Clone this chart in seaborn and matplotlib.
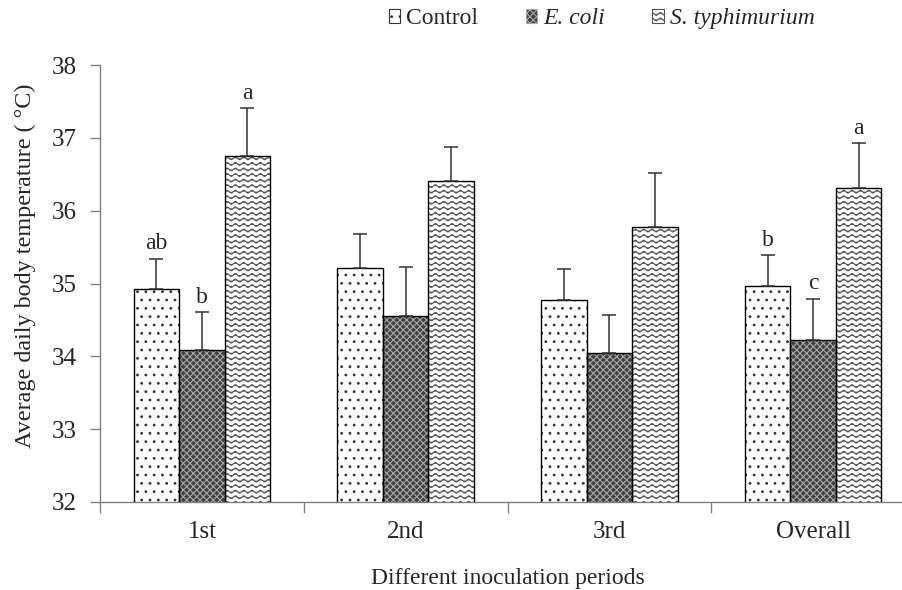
import warnings
warnings.filterwarnings("ignore")
import numpy as np
import pandas as pd
import matplotlib
matplotlib.use("Agg")
import matplotlib.pyplot as plt
import matplotlib.hatch as mhatch
from matplotlib.path import Path
from matplotlib.patches import Patch, Rectangle
import seaborn as sns

# ---------------- data ----------------
periods = ["1st", "2nd", "3rd", "Overall"]
treatments = ["Control", "E. coli", "S. typhimurium"]
control_mean = [34.92, 35.21, 34.77, 34.97]
ecoli_mean = [34.09, 34.55, 34.04, 34.22]
styph_mean = [36.75, 36.41, 35.78, 36.31]
control_err = [0.42, 0.47, 0.43, 0.42]
ecoli_err = [0.52, 0.67, 0.53, 0.57]
styph_err = [0.66, 0.46, 0.74, 0.62]
control_letters = ["ab", "", "", "b"]
ecoli_letters = ["b", "", "", "c"]
styph_letters = ["a", "", "", "a"]
y_ticks = [32, 33, 34, 35, 36, 37, 38]


# ------------- custom wavy hatch -------------
class WaveHatch(mhatch.HatchPatternBase):
    def __init__(self, hatch, density):
        self.num_rows = hatch.count('~') * density
        self.n_per = 12
        self.n_pts = self.n_per * 8 + 1
        self.num_vertices = self.num_rows * self.n_pts if self.num_rows else 0

    def set_vertices_and_codes(self, vertices, codes):
        xs = np.linspace(0.0, 1.0, self.n_pts)
        amp = 0.014
        k = 0
        for i in range(self.num_rows):
            y0 = (i + 0.5) / self.num_rows
            ys = y0 + amp * np.sin(2 * np.pi * self.n_per * xs)
            vertices[k:k + self.n_pts, 0] = xs
            vertices[k:k + self.n_pts, 1] = ys
            codes[k] = Path.MOVETO
            codes[k + 1:k + self.n_pts] = Path.LINETO
            k += self.n_pts


mhatch._hatch_types.append(WaveHatch)

# ------------- dataframe -------------
rows = []
for t, means in zip(treatments, [control_mean, ecoli_mean, styph_mean]):
    for p, m in zip(periods, means):
        rows.append({"period": p, "treatment": t, "temp": m})
df = pd.DataFrame(rows)

sns.set_style("white")
plt.rcParams["font.family"] = ["Liberation Serif", "DejaVu Serif"]
plt.rcParams["hatch.linewidth"] = 0.8

styles = {
    "Control": dict(face="white", hatch="..", hcolor="#333333"),
    "E. coli": dict(face="#404040", hatch="xxxxx", hcolor="#a8a8a8"),
    "S. typhimurium": dict(face="white", hatch="~~~", hcolor="#555555"),
}

fig = plt.figure(figsize=(9.02, 5.90), dpi=100)
ax = fig.add_axes([100 / 902, (590 - 502) / 590, 815 / 902, (502 - 65) / 590])

sns.barplot(data=df, x="period", y="temp", hue="treatment", order=periods,
            hue_order=treatments, width=0.67, errorbar=None, ax=ax,
            palette=["white"] * 3, legend=False, saturation=1)

ax.set_ylim(32, 38)
ax.set_xlim(-0.5, 3.5)

errs = [control_err, ecoli_err, styph_err]
means_all = [control_mean, ecoli_mean, styph_mean]
letters_all = [control_letters, ecoli_letters, styph_letters]

for cont, t, err, means, lets in zip(ax.containers, treatments, errs, means_all, letters_all):
    st = styles[t]
    xs = []
    for patch in cont.patches:
        patch.set_facecolor(st["face"])
        patch.set_hatch(st["hatch"])
        patch.set_edgecolor(st["hcolor"])
        patch.set_linewidth(0)
        ax.add_patch(Rectangle(patch.get_xy(), patch.get_width(), patch.get_height(),
                               fill=False, edgecolor="black", linewidth=1.0, zorder=3))
        xs.append(patch.get_x() + patch.get_width() / 2)
    ax.errorbar(xs, means, yerr=[np.zeros(len(err)), err], fmt="none",
                ecolor="#333333", elinewidth=1.1, capsize=5, capthick=1.1, zorder=4)
    for x, m, e, l in zip(xs, means, err, lets):
        if l:
            ax.text(x, m + e + 0.06, l, ha="center", va="bottom", fontsize=17)

# axes styling
for s in ["top", "right"]:
    ax.spines[s].set_visible(False)
for s in ["left", "bottom"]:
    ax.spines[s].set_color("#808080")
    ax.spines[s].set_linewidth(1.0)

ax.set_yticks(y_ticks)
ax.set_yticklabels([str(v) for v in y_ticks], fontsize=18)
ax.tick_params(axis="y", direction="out", length=7, width=1, color="#808080", pad=10, left=True)
ax.set_xticks(range(len(periods)))
ax.set_xticklabels(periods, fontsize=18)
ax.tick_params(axis="x", which="major", length=0, pad=14)
ax.set_xticks([i - 0.5 for i in range(len(periods) + 1)], minor=True)
ax.tick_params(axis="x", which="minor", direction="out", length=8, width=1, color="#808080", bottom=True)

ax.set_xlabel("Different inoculation periods", fontsize=17, labelpad=18)
ax.set_ylabel("Average daily body temperature ( \u00b0C)", fontsize=17.4)
ax.yaxis.set_label_coords(-0.078, 0.54)

# legend
handles = []
for t in treatments:
    st = styles[t]
    handles.append(Patch(facecolor=st["face"], hatch=st["hatch"], edgecolor=st["hcolor"], linewidth=0.8))
leg = fig.legend(handles, ["Control", "E. coli", "S. typhimurium"], loc="center",
                 bbox_to_anchor=(0.667, 0.968), ncol=3, frameon=False, fontsize=17,
                 handlelength=0.5, handleheight=0.55, handletextpad=0.25, columnspacing=2.0)
for txt in leg.get_texts()[1:]:
    txt.set_fontstyle("italic")

fig.savefig("out.png", dpi=100)
